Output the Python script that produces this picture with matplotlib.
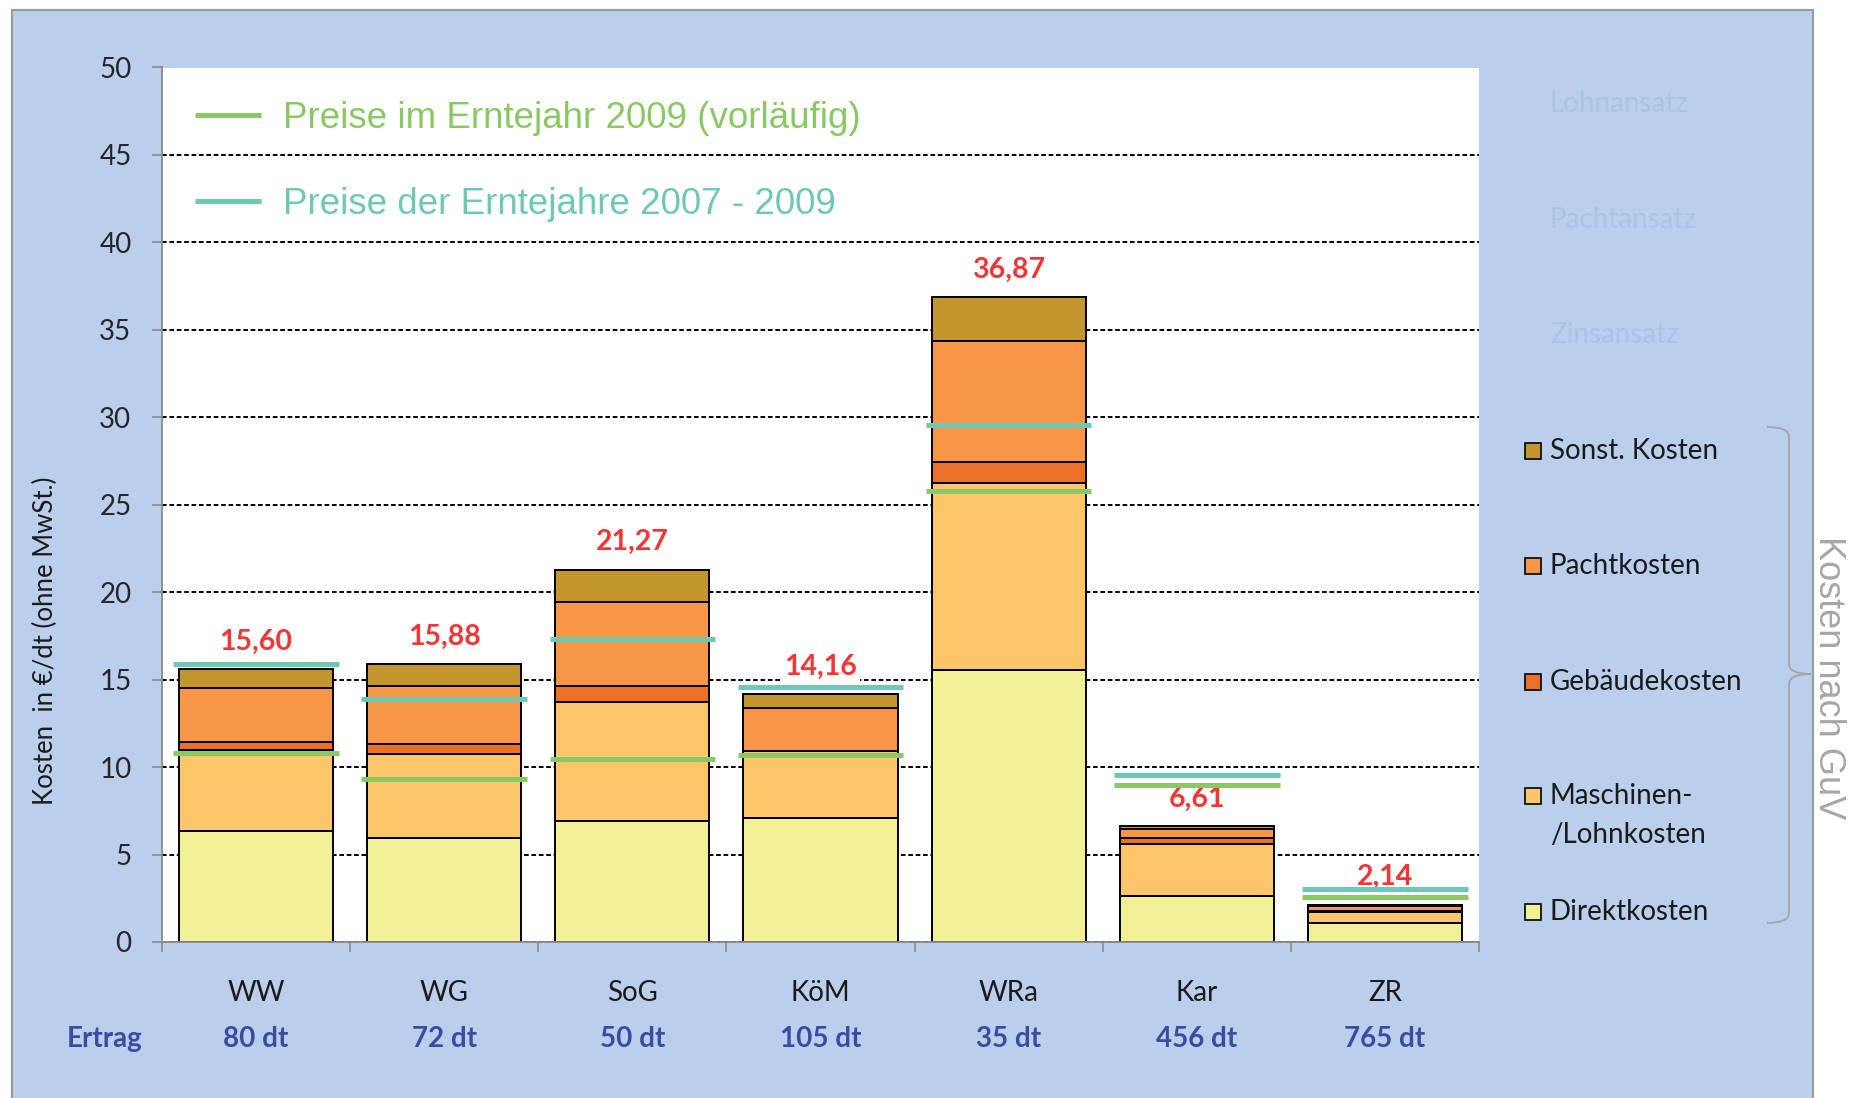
import numpy as np
import matplotlib.pyplot as plt
from matplotlib.patches import Rectangle, PathPatch
from matplotlib.path import Path

plt.rcParams['font.family'] = ['Lato', 'DejaVu Sans']

# Kulturen und Erträge
kulturen = ['WW', 'WG', 'SoG', 'KöM', 'WRa', 'Kar', 'ZR']
ertrag = ['80 dt', '72 dt', '50 dt', '105 dt', '35 dt', '456 dt', '765 dt']

# Kosten in €/dt (von unten nach oben gestapelt)
direktkosten = [6.37, 5.93, 6.94, 7.07, 15.55, 2.63, 1.10]
maschinenkosten = [4.61, 4.80, 6.78, 3.87, 10.67, 2.96, 0.59]
gebaeudekosten = [0.44, 0.59, 0.94, 0.00, 1.24, 0.34, 0.06]
pachtkosten = [3.08, 3.30, 4.80, 2.42, 6.90, 0.51, 0.31]
sonst_kosten = [1.10, 1.26, 1.81, 0.80, 2.51, 0.17, 0.08]

# Preise
preis_2009 = [10.83, 9.32, 10.48, 10.71, 25.80, 9.00, 2.59]
preis_2007_2009 = [15.88, 13.89, 17.34, 14.60, 29.58, 9.55, 3.05]

reihen = [
    ('Direktkosten', direktkosten, '#F2F097'),
    ('Maschinen-\n/Lohnkosten', maschinenkosten, '#FEC66A'),
    ('Gebäudekosten', gebaeudekosten, '#EB7026'),
    ('Pachtkosten', pachtkosten, '#F79646'),
    ('Sonst. Kosten', sonst_kosten, '#C4962E'),
]
ansaetze = ['Lohnansatz', 'Pachtansatz', 'Zinsansatz']

W, H = 1858, 1098
fx = lambda x: x / W
fy = lambda y: 1 - y / H

fig = plt.figure(figsize=(W / 100, H / 100), dpi=100, facecolor='white')

# blauer Hintergrund
fig.patches.append(Rectangle((fx(12), -0.02), fx(1813) - fx(12), fy(9.5) + 0.02,
                             transform=fig.transFigure, facecolor='#B9CFEB',
                             edgecolor='#9A9A9A', lw=1.5, zorder=-5))

ax = fig.add_axes([fx(162), fy(942), fx(1479) - fx(162), fy(67.5) - fy(942)])
ax.set_zorder(2)
ax.set_facecolor('white')

x = np.arange(len(kulturen))
unten = np.zeros(len(kulturen))
for name, werte, farbe in reihen:
    ax.bar(x, werte, width=0.82, bottom=unten, color=farbe,
           edgecolor='black', lw=1.4, zorder=2)
    unten += np.array(werte)

for i, summe in enumerate(unten):
    ax.annotate(f'{summe:.2f}'.replace('.', ','), (i, summe), xytext=(0, 20),
                textcoords='offset points', ha='center', va='center',
                fontsize=20.5, fontweight='bold', color='#F33535', zorder=3,
                bbox=dict(boxstyle='square,pad=0.1', fc='white', ec='none'))

l09 = ax.hlines(preis_2009, x - 0.44, x + 0.44, color='#8AC864', lw=3.6, zorder=4)
l0709 = ax.hlines(preis_2007_2009, x - 0.44, x + 0.44, color='#6DC8B4', lw=3.6, zorder=4)

leg = ax.legend([l09, l0709],
                ['Preise im Erntejahr 2009 (vorläufig)', 'Preise der Erntejahre 2007 - 2009'],
                labelcolor=['#8AC864', '#6DC8B4'], frameon=False,
                prop=dict(family=['Liberation Sans', 'DejaVu Sans'], size=26.5),
                loc='upper left', bbox_to_anchor=(0.025, 0.962),
                borderaxespad=0, borderpad=0, handlelength=1.8,
                handletextpad=0.6, labelspacing=1.38)

ax.set_xlim(-0.5, len(kulturen) - 0.5)
ax.set_ylim(0, 50)
ax.set_yticks(np.arange(0, 51, 5))
ax.set_axisbelow(True)
ax.yaxis.grid(True, linestyle=(0, (2.4, 1.4)), color='black', lw=1.4)

ax.set_xticks(np.arange(-0.5, len(kulturen)))
ax.set_xticklabels([])
ax.tick_params(axis='x', length=7, width=1.2, color='#898989')
ax.tick_params(axis='y', length=7, width=1.2, color='#898989', pad=15,
               labelsize=20, labelcolor='#262626')
for s in ['top', 'right']:
    ax.spines[s].set_visible(False)
for s in ['left', 'bottom']:
    ax.spines[s].set_color('#898989')
    ax.spines[s].set_linewidth(1.3)

for i, (k, e) in enumerate(zip(kulturen, ertrag)):
    ax.annotate(k, (i, 0), xytext=(0, -(993 - 942) * 0.72), textcoords='offset points',
                ha='center', va='center', fontsize=20, color='#1A1A1A',
                annotation_clip=False)
    ax.annotate(e, (i, 0), xytext=(0, -(1039 - 942) * 0.72), textcoords='offset points',
                ha='center', va='center', fontsize=20, fontweight='bold', color='#3A4BA0',
                annotation_clip=False)

fig.text(fx(105), fy(1039), 'Ertrag', ha='center', va='center', fontsize=20,
         fontweight='bold', color='#3A4BA0')
fig.text(fx(45), fy(641), 'Kosten  in €/dt (ohne MwSt.)', rotation=90,
         ha='center', va='center', fontsize=18.5, color='#1A1A1A')

# ausgeblendete Ansätze
for txt, yy in zip(ansaetze, [104, 220, 335]):
    fig.text(fx(1550), fy(yy), txt, ha='left', va='center', fontsize=20, color='#ADC4E3')

# Legende rechts
ly = [451, 566, 682, 796, 912]
for (name, werte, farbe), yy in zip(reihen[::-1], ly):
    fig.patches.append(Rectangle((fx(1525), fy(yy + 8)), 16 / W, 16 / H,
                                 transform=fig.transFigure, facecolor=farbe,
                                 edgecolor='black', lw=1.2))
    zeilen = name.split('\n')
    for j, z in enumerate(zeilen):
        fig.text(fx(1550), fy(yy + j * 39), z, ha='left', va='center',
                 fontsize=20, color='#1A1A1A')

# Klammer
pts = [(1767, 427), (1789, 427), (1789, 437), (1789, 664), (1789, 674), (1811, 674),
       (1789, 674), (1789, 684), (1789, 913), (1789, 923), (1767, 923)]
codes = [Path.MOVETO, Path.CURVE3, Path.CURVE3, Path.LINETO, Path.CURVE3, Path.CURVE3,
         Path.CURVE3, Path.CURVE3, Path.LINETO, Path.CURVE3, Path.CURVE3]
pfad = Path([(fx(a), fy(b)) for a, b in pts], codes)
fig.patches.append(PathPatch(pfad, transform=fig.transFigure, fill=False,
                             edgecolor='#A5A5A5', lw=1.3))
fig.text(fx(1829), fy(678), 'Kosten nach GuV', rotation=-90, ha='center', va='center',
         fontsize=26, color='#A6A6A6', family=['Liberation Sans', 'DejaVu Sans'])

fig.savefig('out.png', dpi=100, facecolor='white')
